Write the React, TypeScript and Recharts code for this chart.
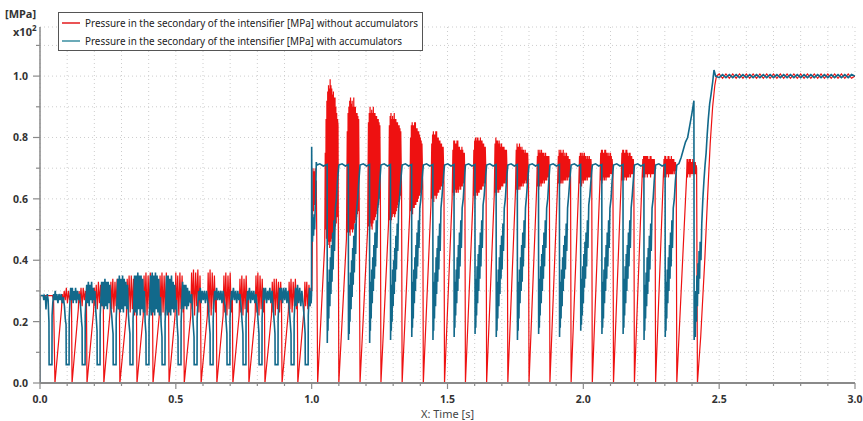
import React from 'react';
import { LineChart, Line, XAxis, YAxis, CartesianGrid } from 'recharts';

// ---- axis ticks ----
const xTicks = [0, 0.1, 0.2, 0.3, 0.4, 0.5, 0.6, 0.7, 0.8, 0.9, 1.0, 1.1, 1.2, 1.3, 1.4, 1.5, 1.6, 1.7, 1.8, 1.9, 2.0, 2.1, 2.2, 2.3, 2.4, 2.5, 2.6, 2.7, 2.8, 2.9, 3.0];
const yTicks = [0, 0.1, 0.2, 0.3, 0.4, 0.5, 0.6, 0.7, 0.8, 0.9, 1.0, 1.1];
const xLabels = ['0.0', '0.5', '1.0', '1.5', '2.0', '2.5', '3.0'];
const yLabels = ['0.0', '0.2', '0.4', '0.6', '0.8', '1.0'];

const seriesNames = [
  'Pressure in the secondary of the intensifier [MPa] without accumulators',
  'Pressure in the secondary of the intensifier [MPa] with accumulators',
];

// ---- red: without accumulators  [time s, pressure x100 MPa] ----
const redStartup: number[][] = [
  [0, 0], [0.001, 0.285], [0.046, 0.285], [0.05, 0.27],
  [0.055, 0], [0.079, 0.24], [0.082, 0.29], [0.085, 0.26], [0.089, 0.3], [0.093, 0.27], [0.097, 0.31], [0.101, 0.26], [0.105, 0.3], [0.109, 0.27], [0.113, 0.29], [0.116, 0.27],
  [0.118, 0], [0.141, 0.24], [0.144, 0.3], [0.147, 0.26], [0.151, 0.31], [0.155, 0.25], [0.159, 0.31], [0.163, 0.27], [0.167, 0.3], [0.171, 0.26],
  [0.173, 0], [0.197, 0.23], [0.2, 0.31], [0.203, 0.25], [0.207, 0.32], [0.211, 0.24], [0.215, 0.33], [0.219, 0.26], [0.223, 0.32], [0.227, 0.25], [0.231, 0.31], [0.233, 0.27],
  [0.235, 0], [0.258, 0.23], [0.261, 0.33], [0.264, 0.24], [0.268, 0.34], [0.272, 0.23], [0.276, 0.33], [0.28, 0.25], [0.284, 0.34], [0.288, 0.24], [0.292, 0.3],
  [0.294, 0], [0.318, 0.22], [0.321, 0.34], [0.324, 0.24], [0.328, 0.35], [0.332, 0.23], [0.336, 0.35], [0.34, 0.24], [0.344, 0.34], [0.348, 0.22], [0.352, 0.33], [0.355, 0.25],
  [0.357, 0], [0.38, 0.22], [0.383, 0.35], [0.386, 0.23], [0.39, 0.36], [0.394, 0.22], [0.398, 0.35], [0.402, 0.24], [0.406, 0.36], [0.41, 0.23], [0.414, 0.3],
  [0.416, 0], [0.439, 0.22], [0.442, 0.35], [0.445, 0.22], [0.449, 0.36], [0.453, 0.23], [0.457, 0.35], [0.461, 0.22], [0.465, 0.36], [0.469, 0.24], [0.473, 0.3],
  [0.475, 0], [0.497, 0.22], [0.5, 0.36], [0.503, 0.23], [0.507, 0.35], [0.511, 0.22], [0.515, 0.36], [0.519, 0.24], [0.523, 0.35], [0.527, 0.23], [0.529, 0.3],
  [0.531, 0], [0.555, 0.22], [0.558, 0.36], [0.561, 0.24], [0.565, 0.37], [0.569, 0.22], [0.573, 0.36], [0.577, 0.25], [0.581, 0.37], [0.585, 0.23], [0.589, 0.35], [0.591, 0.26],
  [0.593, 0], [0.616, 0.22], [0.619, 0.36], [0.622, 0.23], [0.626, 0.37], [0.63, 0.22], [0.634, 0.36], [0.638, 0.24], [0.642, 0.35], [0.646, 0.23], [0.649, 0.3],
  [0.651, 0], [0.674, 0.22], [0.677, 0.35], [0.68, 0.23], [0.684, 0.36], [0.688, 0.22], [0.692, 0.35], [0.696, 0.24], [0.7, 0.36], [0.704, 0.23], [0.708, 0.3],
  [0.71, 0], [0.733, 0.22], [0.736, 0.34], [0.739, 0.23], [0.743, 0.35], [0.747, 0.22], [0.751, 0.34], [0.755, 0.24], [0.759, 0.35], [0.763, 0.23], [0.767, 0.3],
  [0.769, 0], [0.792, 0.22], [0.795, 0.35], [0.798, 0.23], [0.802, 0.36], [0.806, 0.22], [0.81, 0.35], [0.814, 0.24], [0.818, 0.34], [0.822, 0.23], [0.826, 0.3],
  [0.828, 0], [0.852, 0.22], [0.855, 0.33], [0.858, 0.23], [0.862, 0.34], [0.866, 0.22], [0.87, 0.34], [0.874, 0.24], [0.878, 0.33], [0.882, 0.23], [0.886, 0.33], [0.889, 0.26],
  [0.891, 0], [0.914, 0.23], [0.917, 0.33], [0.92, 0.24], [0.924, 0.34], [0.928, 0.23], [0.932, 0.33], [0.936, 0.25], [0.94, 0.34], [0.944, 0.24], [0.947, 0.3],
  [0.949, 0], [0.972, 0.24], [0.975, 0.33], [0.978, 0.25], [0.982, 0.33], [0.986, 0.24], [0.99, 0.32], [0.994, 0.25], [0.998, 0.31], [1.001, 0.3],
  [1.003, 0.5], [1.005, 0.7], [1.007, 0.56], [1.009, 0.69], [1.011, 0.58], [1.013, 0.7], [1.015, 0.6], [1.017, 0.66], [1.019, 0.45],
];

const redCycles: number[][] = [
  [1.022, 0], [1.048, 0.45], [1.05, 0.75], [1.0515, 0.5], [1.053, 0.86], [1.0545, 0.47], [1.056, 0.92], [1.0575, 0.48], [1.059, 0.95], [1.0605, 0.45], [1.062, 0.97], [1.0635, 0.46], [1.065, 0.96], [1.0665, 0.44], [1.068, 0.99], [1.0695, 0.46], [1.071, 0.97], [1.0725, 0.47], [1.074, 0.96], [1.0755, 0.46], [1.077, 0.94], [1.0785, 0.45], [1.08, 0.95], [1.0815, 0.49], [1.083, 0.93], [1.0845, 0.5], [1.086, 0.93], [1.0875, 0.51], [1.089, 0.9], [1.0905, 0.52], [1.092, 0.88], [1.0935, 0.54], [1.095, 0.86], [1.097, 0.84],
  [1.1, 0], [1.128, 0.47], [1.131, 0.82], [1.1325, 0.49], [1.134, 0.88], [1.1355, 0.5], [1.137, 0.9], [1.1385, 0.49], [1.14, 0.92], [1.1415, 0.48], [1.143, 0.93], [1.1445, 0.5], [1.146, 0.91], [1.1475, 0.5], [1.149, 0.92], [1.1505, 0.49], [1.152, 0.9], [1.1535, 0.5], [1.155, 0.93], [1.1565, 0.52], [1.158, 0.9], [1.1595, 0.52], [1.161, 0.9], [1.1625, 0.53], [1.164, 0.88], [1.1655, 0.54], [1.167, 0.88], [1.1685, 0.55], [1.17, 0.87], [1.1715, 0.56], [1.173, 0.86], [1.175, 0.6],
  [1.178, 0], [1.206, 0.5], [1.209, 0.85], [1.2105, 0.51], [1.212, 0.88], [1.2135, 0.5], [1.215, 0.9], [1.2165, 0.52], [1.218, 0.88], [1.2195, 0.51], [1.221, 0.89], [1.2225, 0.5], [1.224, 0.88], [1.2255, 0.52], [1.227, 0.9], [1.2285, 0.53], [1.23, 0.88], [1.2315, 0.53], [1.233, 0.88], [1.2345, 0.54], [1.236, 0.87], [1.2375, 0.55], [1.239, 0.87], [1.2405, 0.56], [1.242, 0.86], [1.2435, 0.57], [1.245, 0.86], [1.2465, 0.58], [1.248, 0.85], [1.2495, 0.6], [1.251, 0.84], [1.253, 0.62],
  [1.255, 0], [1.283, 0.52], [1.286, 0.84], [1.2875, 0.53], [1.289, 0.87], [1.2905, 0.52], [1.292, 0.88], [1.2935, 0.53], [1.295, 0.86], [1.2965, 0.54], [1.298, 0.87], [1.2995, 0.55], [1.301, 0.86], [1.3025, 0.55], [1.304, 0.88], [1.3055, 0.54], [1.307, 0.86], [1.3085, 0.55], [1.31, 0.86], [1.3115, 0.56], [1.313, 0.85], [1.3145, 0.57], [1.316, 0.85], [1.3175, 0.58], [1.319, 0.84], [1.3205, 0.59], [1.322, 0.84], [1.3235, 0.6], [1.325, 0.83], [1.3265, 0.61], [1.328, 0.82], [1.331, 0.62],
  [1.333, 0], [1.361, 0.55], [1.364, 0.8], [1.3655, 0.56], [1.367, 0.84], [1.3685, 0.56], [1.37, 0.85], [1.3715, 0.55], [1.373, 0.84], [1.3745, 0.57], [1.376, 0.84], [1.3775, 0.57], [1.379, 0.85], [1.3805, 0.58], [1.382, 0.85], [1.3835, 0.58], [1.385, 0.83], [1.3865, 0.59], [1.388, 0.83], [1.3895, 0.59], [1.391, 0.82], [1.3925, 0.6], [1.394, 0.82], [1.3955, 0.61], [1.397, 0.81], [1.3985, 0.61], [1.4, 0.8], [1.4015, 0.62], [1.403, 0.79], [1.4045, 0.63], [1.406, 0.78], [1.409, 0.64],
  [1.411, 0], [1.439, 0.58], [1.442, 0.78], [1.4435, 0.6], [1.445, 0.81], [1.4465, 0.6], [1.448, 0.82], [1.4495, 0.59], [1.451, 0.81], [1.4525, 0.61], [1.454, 0.81], [1.4555, 0.61], [1.457, 0.82], [1.4585, 0.6], [1.46, 0.82], [1.4615, 0.61], [1.463, 0.8], [1.4645, 0.62], [1.466, 0.8], [1.4675, 0.62], [1.469, 0.79], [1.4705, 0.63], [1.472, 0.79], [1.4735, 0.63], [1.475, 0.78], [1.4765, 0.64], [1.478, 0.78], [1.4795, 0.64], [1.481, 0.77], [1.4825, 0.65], [1.484, 0.77], [1.487, 0.65],
  [1.489, 0], [1.517, 0.6], [1.52, 0.76], [1.5215, 0.62], [1.523, 0.79], [1.5245, 0.61], [1.526, 0.79], [1.5275, 0.62], [1.529, 0.78], [1.5305, 0.63], [1.532, 0.78], [1.5335, 0.62], [1.535, 0.79], [1.5365, 0.63], [1.538, 0.79], [1.5395, 0.62], [1.541, 0.77], [1.5425, 0.63], [1.544, 0.77], [1.5455, 0.64], [1.547, 0.76], [1.5485, 0.63], [1.55, 0.76], [1.5515, 0.64], [1.553, 0.77], [1.5545, 0.64], [1.556, 0.76], [1.5575, 0.65], [1.559, 0.75], [1.5605, 0.65], [1.562, 0.75], [1.564, 0.66],
  [1.566, 0], [1.594, 0.6], [1.597, 0.76], [1.5985, 0.61], [1.6, 0.79], [1.6015, 0.6], [1.603, 0.8], [1.6045, 0.61], [1.606, 0.79], [1.6075, 0.62], [1.609, 0.8], [1.6105, 0.61], [1.612, 0.8], [1.6135, 0.62], [1.615, 0.79], [1.6165, 0.62], [1.618, 0.79], [1.6195, 0.63], [1.621, 0.8], [1.6225, 0.63], [1.624, 0.79], [1.6255, 0.63], [1.627, 0.79], [1.6285, 0.64], [1.63, 0.78], [1.6315, 0.64], [1.633, 0.78], [1.6345, 0.65], [1.636, 0.77], [1.6375, 0.65], [1.639, 0.77], [1.642, 0.66],
  [1.644, 0], [1.672, 0.61], [1.675, 0.78], [1.6765, 0.62], [1.678, 0.8], [1.6795, 0.61], [1.681, 0.79], [1.6825, 0.62], [1.684, 0.79], [1.6855, 0.63], [1.687, 0.78], [1.6885, 0.62], [1.69, 0.79], [1.6915, 0.63], [1.693, 0.78], [1.6945, 0.63], [1.696, 0.77], [1.6975, 0.64], [1.699, 0.78], [1.7005, 0.64], [1.702, 0.77], [1.7035, 0.64], [1.705, 0.77], [1.7065, 0.65], [1.708, 0.77], [1.7095, 0.65], [1.711, 0.76], [1.7125, 0.65], [1.714, 0.76], [1.7155, 0.66], [1.717, 0.76], [1.72, 0.66],
  [1.722, 0], [1.75, 0.62], [1.753, 0.76], [1.7545, 0.63], [1.756, 0.78], [1.7575, 0.62], [1.759, 0.77], [1.7605, 0.63], [1.762, 0.77], [1.7635, 0.64], [1.765, 0.78], [1.7665, 0.63], [1.768, 0.77], [1.7695, 0.64], [1.771, 0.76], [1.7725, 0.64], [1.774, 0.77], [1.7755, 0.65], [1.777, 0.76], [1.7785, 0.64], [1.78, 0.76], [1.7815, 0.65], [1.783, 0.75], [1.7845, 0.65], [1.786, 0.76], [1.7875, 0.66], [1.789, 0.75], [1.7905, 0.65], [1.792, 0.75], [1.7935, 0.66], [1.795, 0.75], [1.798, 0.66],
  [1.8, 0], [1.828, 0.63], [1.831, 0.74], [1.8325, 0.64], [1.834, 0.76], [1.8355, 0.63], [1.837, 0.75], [1.8385, 0.64], [1.84, 0.76], [1.8415, 0.65], [1.843, 0.75], [1.8445, 0.64], [1.846, 0.76], [1.8475, 0.65], [1.849, 0.75], [1.8505, 0.65], [1.852, 0.75], [1.8535, 0.66], [1.855, 0.75], [1.8565, 0.65], [1.858, 0.74], [1.8595, 0.66], [1.861, 0.75], [1.8625, 0.66], [1.864, 0.74], [1.8655, 0.66], [1.867, 0.74], [1.8685, 0.67], [1.87, 0.74], [1.8715, 0.67], [1.873, 0.74], [1.875, 0.67],
  [1.877, 0], [1.905, 0.64], [1.908, 0.74], [1.9095, 0.65], [1.911, 0.76], [1.9125, 0.64], [1.914, 0.75], [1.9155, 0.65], [1.917, 0.76], [1.9185, 0.65], [1.92, 0.75], [1.9215, 0.66], [1.923, 0.75], [1.9245, 0.65], [1.926, 0.76], [1.9275, 0.66], [1.929, 0.74], [1.9305, 0.66], [1.932, 0.75], [1.9335, 0.66], [1.935, 0.74], [1.9365, 0.66], [1.938, 0.75], [1.9395, 0.67], [1.941, 0.74], [1.9425, 0.66], [1.944, 0.74], [1.9455, 0.67], [1.947, 0.73], [1.9485, 0.67], [1.95, 0.73], [1.953, 0.67],
  [1.955, 0], [1.983, 0.64], [1.986, 0.74], [1.9875, 0.65], [1.989, 0.75], [1.9905, 0.65], [1.992, 0.75], [1.9935, 0.64], [1.995, 0.74], [1.9965, 0.66], [1.998, 0.75], [1.9995, 0.65], [2.001, 0.74], [2.0025, 0.66], [2.004, 0.75], [2.0055, 0.66], [2.007, 0.74], [2.0085, 0.66], [2.01, 0.74], [2.0115, 0.67], [2.013, 0.73], [2.0145, 0.66], [2.016, 0.74], [2.0175, 0.67], [2.019, 0.73], [2.0205, 0.67], [2.022, 0.74], [2.0235, 0.67], [2.025, 0.73], [2.0265, 0.67], [2.028, 0.73], [2.031, 0.67],
  [2.033, 0], [2.061, 0.65], [2.064, 0.75], [2.0655, 0.66], [2.067, 0.76], [2.0685, 0.65], [2.07, 0.76], [2.0715, 0.66], [2.073, 0.75], [2.0745, 0.67], [2.076, 0.75], [2.0775, 0.66], [2.079, 0.76], [2.0805, 0.67], [2.082, 0.76], [2.0835, 0.66], [2.085, 0.75], [2.0865, 0.67], [2.088, 0.75], [2.0895, 0.67], [2.091, 0.74], [2.0925, 0.67], [2.094, 0.75], [2.0955, 0.67], [2.097, 0.74], [2.0985, 0.68], [2.1, 0.75], [2.1015, 0.68], [2.103, 0.74], [2.1045, 0.68], [2.106, 0.73], [2.109, 0.68],
  [2.111, 0], [2.139, 0.65], [2.142, 0.75], [2.1435, 0.66], [2.145, 0.76], [2.1465, 0.66], [2.148, 0.76], [2.1495, 0.66], [2.151, 0.75], [2.1525, 0.67], [2.154, 0.75], [2.1555, 0.67], [2.157, 0.76], [2.1585, 0.66], [2.16, 0.76], [2.1615, 0.67], [2.163, 0.75], [2.1645, 0.67], [2.166, 0.74], [2.1675, 0.67], [2.169, 0.75], [2.1705, 0.68], [2.172, 0.75], [2.1735, 0.67], [2.175, 0.74], [2.1765, 0.68], [2.178, 0.74], [2.1795, 0.68], [2.181, 0.73], [2.1825, 0.68], [2.184, 0.73], [2.186, 0.68],
  [2.188, 0], [2.216, 0.66], [2.219, 0.73], [2.2205, 0.67], [2.222, 0.74], [2.2235, 0.67], [2.225, 0.74], [2.2265, 0.67], [2.228, 0.74], [2.2295, 0.68], [2.231, 0.74], [2.2325, 0.68], [2.234, 0.74], [2.2355, 0.67], [2.237, 0.74], [2.2385, 0.68], [2.24, 0.73], [2.2415, 0.68], [2.243, 0.73], [2.2445, 0.68], [2.246, 0.74], [2.2475, 0.67], [2.249, 0.74], [2.2505, 0.68], [2.252, 0.73], [2.2535, 0.68], [2.255, 0.73], [2.2565, 0.68], [2.258, 0.73], [2.2595, 0.68], [2.261, 0.73], [2.264, 0.68],
  [2.266, 0], [2.294, 0.66], [2.297, 0.73], [2.2985, 0.67], [2.3, 0.74], [2.3015, 0.67], [2.303, 0.74], [2.3045, 0.67], [2.306, 0.73], [2.3075, 0.68], [2.309, 0.73], [2.3105, 0.68], [2.312, 0.74], [2.3135, 0.67], [2.315, 0.74], [2.3165, 0.68], [2.318, 0.73], [2.3195, 0.68], [2.321, 0.73], [2.3225, 0.68], [2.324, 0.74], [2.3255, 0.68], [2.327, 0.73], [2.3285, 0.68], [2.33, 0.73], [2.3315, 0.69], [2.333, 0.73], [2.3345, 0.68], [2.336, 0.72], [2.3375, 0.69], [2.339, 0.72], [2.342, 0.69],
  [2.344, 0], [2.38, 0.67], [2.382, 0.73], [2.3835, 0.67], [2.385, 0.73], [2.3865, 0.68], [2.388, 0.72], [2.3895, 0.68], [2.391, 0.73], [2.3925, 0.67], [2.394, 0.73], [2.3955, 0.68], [2.397, 0.72], [2.3985, 0.68], [2.4, 0.72], [2.4015, 0.68], [2.403, 0.73], [2.4045, 0.68], [2.406, 0.72], [2.4075, 0.68], [2.409, 0.72], [2.4105, 0.68], [2.412, 0.72], [2.4135, 0.68], [2.415, 0.71], [2.417, 0.7],
];

const redSettle: number[][] = [
  [2.42, 0], [2.432, 0.15], [2.447, 0.4], [2.457, 0.6], [2.467, 0.78], [2.476, 0.9], [2.484, 0.97], [2.49, 1.0],
  [2.5, 1.007], [2.5125, 0.993], [2.525, 1.007], [2.5375, 0.993], [2.55, 1.007], [2.5625, 0.993], [2.575, 1.007], [2.5875, 0.993],
  [2.6, 1.007], [2.6125, 0.993], [2.625, 1.007], [2.6375, 0.993], [2.65, 1.007], [2.6625, 0.993], [2.675, 1.007], [2.6875, 0.993],
  [2.7, 1.007], [2.7125, 0.993], [2.725, 1.007], [2.7375, 0.993], [2.75, 1.007], [2.7625, 0.993], [2.775, 1.007], [2.7875, 0.993],
  [2.8, 1.007], [2.8125, 0.993], [2.825, 1.007], [2.8375, 0.993], [2.85, 1.007], [2.8625, 0.993], [2.875, 1.007], [2.8875, 0.993],
  [2.9, 1.007], [2.9125, 0.993], [2.925, 1.007], [2.9375, 0.993], [2.95, 1.007], [2.9625, 0.993], [2.975, 1.007], [2.9875, 0.993], [3.0, 1.0],
];

// ---- blue: with accumulators ----
const blueStartup: number[][] = [
  [0, 0], [0.001, 0.285], [0.012, 0.285], [0.014, 0.27], [0.016, 0.285], [0.02, 0.28], [0.022, 0.24], [0.024, 0.27], [0.027, 0.29], [0.03, 0.27], [0.032, 0.22],
  [0.033, 0.2], [0.0335, 0.06], [0.044, 0.06],
  [0.0445, 0.22], [0.047, 0.26], [0.05, 0.29], [0.053, 0.27], [0.056, 0.3], [0.059, 0.27], [0.062, 0.29], [0.066, 0.26], [0.07, 0.29], [0.074, 0.27], [0.078, 0.29], [0.082, 0.26], [0.086, 0.28], [0.09, 0.25], [0.093, 0.21], [0.096, 0.19], [0.0965, 0.06], [0.107, 0.06],
  [0.1075, 0.21], [0.11, 0.26], [0.113, 0.31], [0.116, 0.27], [0.119, 0.31], [0.122, 0.26], [0.125, 0.3], [0.128, 0.27], [0.131, 0.31], [0.134, 0.26], [0.138, 0.3], [0.142, 0.27], [0.146, 0.29], [0.15, 0.24], [0.153, 0.2], [0.155, 0.18], [0.1555, 0.06], [0.166, 0.06],
  [0.1665, 0.22], [0.169, 0.27], [0.172, 0.32], [0.175, 0.26], [0.178, 0.33], [0.181, 0.25], [0.184, 0.32], [0.187, 0.27], [0.19, 0.33], [0.193, 0.26], [0.196, 0.31], [0.199, 0.27], [0.202, 0.3], [0.205, 0.24], [0.208, 0.2], [0.21, 0.17], [0.2105, 0.06], [0.221, 0.06],
  [0.2215, 0.22], [0.224, 0.27], [0.227, 0.33], [0.23, 0.25], [0.233, 0.33], [0.236, 0.24], [0.239, 0.34], [0.242, 0.25], [0.245, 0.33], [0.248, 0.24], [0.251, 0.33], [0.254, 0.26], [0.257, 0.32], [0.26, 0.25], [0.264, 0.22], [0.267, 0.18], [0.269, 0.16], [0.2695, 0.06], [0.28, 0.06],
  [0.2805, 0.21], [0.283, 0.26], [0.286, 0.34], [0.289, 0.24], [0.292, 0.35], [0.295, 0.23], [0.298, 0.34], [0.301, 0.24], [0.304, 0.35], [0.307, 0.23], [0.31, 0.34], [0.313, 0.25], [0.316, 0.33], [0.319, 0.24], [0.322, 0.32], [0.325, 0.23], [0.328, 0.19], [0.331, 0.16], [0.3315, 0.06], [0.342, 0.06],
  [0.3425, 0.21], [0.345, 0.25], [0.348, 0.35], [0.351, 0.23], [0.354, 0.35], [0.357, 0.22], [0.36, 0.36], [0.363, 0.24], [0.366, 0.35], [0.369, 0.22], [0.372, 0.35], [0.375, 0.24], [0.378, 0.34], [0.381, 0.23], [0.384, 0.3], [0.387, 0.2], [0.39, 0.16], [0.3905, 0.06], [0.401, 0.06],
  [0.4015, 0.2], [0.404, 0.25], [0.407, 0.35], [0.41, 0.22], [0.413, 0.36], [0.416, 0.23], [0.419, 0.35], [0.422, 0.22], [0.425, 0.36], [0.428, 0.24], [0.431, 0.35], [0.434, 0.23], [0.437, 0.34], [0.44, 0.22], [0.443, 0.28], [0.446, 0.19], [0.449, 0.15], [0.4495, 0.06], [0.46, 0.06],
  [0.4605, 0.2], [0.463, 0.25], [0.466, 0.35], [0.469, 0.22], [0.472, 0.35], [0.475, 0.23], [0.478, 0.34], [0.481, 0.22], [0.484, 0.35], [0.487, 0.24], [0.49, 0.33], [0.493, 0.23], [0.496, 0.32], [0.499, 0.24], [0.502, 0.27], [0.505, 0.19], [0.508, 0.15], [0.5085, 0.06], [0.519, 0.06],
  [0.5195, 0.2], [0.522, 0.26], [0.525, 0.33], [0.528, 0.24], [0.531, 0.32], [0.534, 0.25], [0.537, 0.32], [0.54, 0.24], [0.543, 0.31], [0.546, 0.25], [0.55, 0.3], [0.554, 0.26], [0.558, 0.29], [0.561, 0.24], [0.564, 0.19], [0.567, 0.15], [0.5675, 0.06], [0.578, 0.06],
  [0.5785, 0.21], [0.581, 0.26], [0.584, 0.3], [0.587, 0.27], [0.59, 0.31], [0.593, 0.26], [0.597, 0.3], [0.601, 0.27], [0.605, 0.3], [0.609, 0.26], [0.613, 0.3], [0.617, 0.27], [0.62, 0.25], [0.623, 0.2], [0.626, 0.16], [0.6265, 0.06], [0.637, 0.06],
  [0.6375, 0.21], [0.64, 0.26], [0.643, 0.3], [0.646, 0.27], [0.65, 0.31], [0.654, 0.27], [0.658, 0.3], [0.662, 0.27], [0.666, 0.3], [0.67, 0.26], [0.674, 0.3], [0.678, 0.27], [0.682, 0.25], [0.685, 0.2], [0.688, 0.16], [0.6885, 0.06], [0.699, 0.06],
  [0.6995, 0.21], [0.702, 0.26], [0.705, 0.3], [0.708, 0.27], [0.712, 0.31], [0.716, 0.27], [0.72, 0.3], [0.724, 0.26], [0.728, 0.3], [0.732, 0.27], [0.736, 0.29], [0.74, 0.25], [0.744, 0.2], [0.747, 0.16], [0.7475, 0.06], [0.758, 0.06],
  [0.7585, 0.21], [0.761, 0.26], [0.764, 0.3], [0.767, 0.27], [0.771, 0.31], [0.775, 0.26], [0.779, 0.3], [0.783, 0.27], [0.787, 0.3], [0.791, 0.26], [0.795, 0.29], [0.799, 0.25], [0.803, 0.2], [0.806, 0.16], [0.8065, 0.06], [0.817, 0.06],
  [0.8175, 0.21], [0.82, 0.26], [0.823, 0.31], [0.826, 0.27], [0.83, 0.31], [0.834, 0.26], [0.838, 0.3], [0.842, 0.27], [0.846, 0.31], [0.85, 0.26], [0.854, 0.3], [0.858, 0.25], [0.862, 0.2], [0.865, 0.16], [0.8655, 0.06], [0.876, 0.06],
  [0.8765, 0.21], [0.879, 0.26], [0.882, 0.31], [0.885, 0.27], [0.889, 0.31], [0.893, 0.26], [0.897, 0.31], [0.901, 0.27], [0.905, 0.31], [0.909, 0.26], [0.913, 0.3], [0.917, 0.25], [0.921, 0.2], [0.924, 0.16], [0.9245, 0.06], [0.935, 0.06],
  [0.9355, 0.21], [0.938, 0.26], [0.941, 0.31], [0.944, 0.25], [0.948, 0.32], [0.952, 0.26], [0.956, 0.31], [0.96, 0.25], [0.964, 0.3], [0.968, 0.26], [0.971, 0.23], [0.974, 0.19], [0.976, 0.16], [0.9765, 0.06], [0.987, 0.06],
  [0.9875, 0.22], [0.99, 0.27], [0.992, 0.31], [0.994, 0.25], [0.996, 0.3], [0.998, 0.26], [0.9995, 0.29],
  [1.0, 0.77], [1.0015, 0.52], [1.003, 0.46], [1.005, 0.54], [1.007, 0.48], [1.009, 0.55], [1.011, 0.5], [1.013, 0.57], [1.015, 0.62], [1.017, 0.72], [1.019, 0.71], [1.03, 0.714], [1.043, 0.707],
];

const blueCycles: number[][] = [
  [1.057, 0.712], [1.0575, 0.13], [1.059, 0.28], [1.06, 0.17], [1.062, 0.33], [1.063, 0.21], [1.065, 0.37], [1.067, 0.25], [1.069, 0.41], [1.071, 0.29], [1.073, 0.45], [1.075, 0.33], [1.077, 0.49], [1.079, 0.37], [1.082, 0.53], [1.084, 0.43], [1.087, 0.57], [1.091, 0.6], [1.095, 0.66], [1.1, 0.71],
  [1.112, 0.714], [1.124, 0.707], [1.135, 0.712],
  [1.1355, 0.14], [1.137, 0.27], [1.138, 0.16], [1.14, 0.32], [1.141, 0.2], [1.143, 0.36], [1.145, 0.24], [1.147, 0.4], [1.149, 0.28], [1.151, 0.44], [1.153, 0.32], [1.155, 0.48], [1.157, 0.36], [1.16, 0.52], [1.162, 0.42], [1.165, 0.56], [1.169, 0.6], [1.173, 0.65], [1.178, 0.71],
  [1.19, 0.714], [1.202, 0.707], [1.213, 0.712],
  [1.2135, 0.13], [1.215, 0.28], [1.216, 0.17], [1.218, 0.33], [1.219, 0.21], [1.221, 0.37], [1.223, 0.26], [1.225, 0.41], [1.227, 0.3], [1.229, 0.45], [1.231, 0.34], [1.233, 0.49], [1.235, 0.38], [1.238, 0.53], [1.24, 0.44], [1.243, 0.57], [1.247, 0.6], [1.251, 0.66], [1.255, 0.71],
  [1.267, 0.714], [1.279, 0.707], [1.29, 0.712],
  [1.2905, 0.14], [1.292, 0.27], [1.293, 0.17], [1.295, 0.32], [1.296, 0.2], [1.298, 0.37], [1.3, 0.25], [1.302, 0.4], [1.304, 0.29], [1.306, 0.44], [1.308, 0.33], [1.31, 0.48], [1.312, 0.37], [1.315, 0.52], [1.317, 0.43], [1.32, 0.57], [1.324, 0.61], [1.328, 0.66], [1.333, 0.71],
  [1.345, 0.714], [1.357, 0.707], [1.368, 0.712],
  [1.3685, 0.15], [1.37, 0.28], [1.371, 0.18], [1.373, 0.33], [1.374, 0.21], [1.376, 0.37], [1.378, 0.26], [1.38, 0.41], [1.382, 0.3], [1.384, 0.45], [1.386, 0.34], [1.388, 0.49], [1.39, 0.38], [1.393, 0.53], [1.395, 0.44], [1.398, 0.57], [1.402, 0.6], [1.406, 0.66], [1.411, 0.71],
  [1.423, 0.714], [1.435, 0.707], [1.446, 0.712],
  [1.4465, 0.14], [1.448, 0.27], [1.449, 0.17], [1.451, 0.33], [1.452, 0.21], [1.454, 0.36], [1.456, 0.25], [1.458, 0.41], [1.46, 0.29], [1.462, 0.44], [1.464, 0.33], [1.466, 0.48], [1.468, 0.37], [1.471, 0.52], [1.473, 0.43], [1.476, 0.57], [1.48, 0.61], [1.484, 0.66], [1.489, 0.71],
  [1.501, 0.714], [1.513, 0.707], [1.524, 0.712],
  [1.5245, 0.15], [1.526, 0.28], [1.527, 0.18], [1.529, 0.33], [1.53, 0.22], [1.532, 0.37], [1.534, 0.26], [1.536, 0.41], [1.538, 0.3], [1.54, 0.45], [1.542, 0.34], [1.544, 0.49], [1.546, 0.38], [1.549, 0.53], [1.551, 0.44], [1.554, 0.57], [1.558, 0.6], [1.562, 0.66], [1.566, 0.71],
  [1.578, 0.714], [1.59, 0.707], [1.601, 0.712],
  [1.6015, 0.16], [1.603, 0.29], [1.604, 0.18], [1.606, 0.34], [1.607, 0.22], [1.609, 0.38], [1.611, 0.26], [1.613, 0.42], [1.615, 0.3], [1.617, 0.45], [1.619, 0.34], [1.621, 0.49], [1.623, 0.38], [1.626, 0.53], [1.628, 0.44], [1.631, 0.58], [1.635, 0.61], [1.639, 0.66], [1.644, 0.71],
  [1.656, 0.714], [1.668, 0.707], [1.679, 0.712],
  [1.6795, 0.15], [1.681, 0.28], [1.682, 0.17], [1.684, 0.33], [1.685, 0.21], [1.687, 0.37], [1.689, 0.25], [1.691, 0.41], [1.693, 0.29], [1.695, 0.45], [1.697, 0.34], [1.699, 0.48], [1.701, 0.37], [1.704, 0.52], [1.706, 0.43], [1.709, 0.57], [1.713, 0.6], [1.717, 0.66], [1.722, 0.71],
  [1.734, 0.714], [1.746, 0.707], [1.757, 0.712],
  [1.7575, 0.14], [1.759, 0.28], [1.76, 0.17], [1.762, 0.33], [1.763, 0.21], [1.765, 0.37], [1.767, 0.26], [1.769, 0.41], [1.771, 0.3], [1.773, 0.45], [1.775, 0.33], [1.777, 0.49], [1.779, 0.38], [1.782, 0.53], [1.784, 0.44], [1.787, 0.57], [1.791, 0.61], [1.795, 0.66], [1.8, 0.71],
  [1.812, 0.714], [1.824, 0.707], [1.835, 0.712],
  [1.8355, 0.16], [1.837, 0.29], [1.838, 0.18], [1.84, 0.34], [1.841, 0.22], [1.843, 0.38], [1.845, 0.26], [1.847, 0.42], [1.849, 0.3], [1.851, 0.45], [1.853, 0.34], [1.855, 0.49], [1.857, 0.38], [1.86, 0.53], [1.862, 0.44], [1.865, 0.57], [1.869, 0.6], [1.873, 0.66], [1.877, 0.71],
  [1.889, 0.714], [1.901, 0.707], [1.912, 0.712],
  [1.9125, 0.15], [1.914, 0.28], [1.915, 0.18], [1.917, 0.33], [1.918, 0.21], [1.92, 0.37], [1.922, 0.25], [1.924, 0.41], [1.926, 0.3], [1.928, 0.45], [1.93, 0.34], [1.932, 0.48], [1.934, 0.37], [1.937, 0.52], [1.939, 0.43], [1.942, 0.57], [1.946, 0.61], [1.95, 0.66], [1.955, 0.71],
  [1.967, 0.714], [1.979, 0.707], [1.99, 0.712],
  [1.9905, 0.17], [1.992, 0.29], [1.993, 0.19], [1.995, 0.34], [1.996, 0.22], [1.998, 0.38], [2.0, 0.26], [2.002, 0.42], [2.004, 0.31], [2.006, 0.46], [2.008, 0.34], [2.01, 0.49], [2.012, 0.38], [2.015, 0.53], [2.017, 0.44], [2.02, 0.58], [2.024, 0.61], [2.028, 0.66], [2.033, 0.71],
  [2.045, 0.714], [2.057, 0.707], [2.068, 0.712],
  [2.0685, 0.16], [2.07, 0.28], [2.071, 0.18], [2.073, 0.33], [2.074, 0.21], [2.076, 0.37], [2.078, 0.26], [2.08, 0.41], [2.082, 0.3], [2.084, 0.45], [2.086, 0.34], [2.088, 0.49], [2.09, 0.38], [2.093, 0.53], [2.095, 0.44], [2.098, 0.57], [2.102, 0.6], [2.106, 0.66], [2.111, 0.71],
  [2.123, 0.714], [2.135, 0.707], [2.146, 0.712],
  [2.1465, 0.16], [2.148, 0.29], [2.149, 0.18], [2.151, 0.34], [2.152, 0.22], [2.154, 0.38], [2.156, 0.26], [2.158, 0.42], [2.16, 0.3], [2.162, 0.45], [2.164, 0.34], [2.166, 0.49], [2.168, 0.38], [2.171, 0.53], [2.173, 0.44], [2.176, 0.57], [2.18, 0.61], [2.184, 0.66], [2.188, 0.71],
  [2.2, 0.714], [2.212, 0.707], [2.223, 0.712],
  [2.2235, 0.14], [2.225, 0.27], [2.226, 0.17], [2.228, 0.32], [2.229, 0.21], [2.231, 0.36], [2.233, 0.25], [2.235, 0.41], [2.237, 0.29], [2.239, 0.44], [2.241, 0.33], [2.243, 0.48], [2.245, 0.37], [2.248, 0.52], [2.25, 0.43], [2.253, 0.57], [2.257, 0.6], [2.261, 0.66], [2.266, 0.71],
  [2.278, 0.714], [2.29, 0.707], [2.301, 0.712],
  [2.3015, 0.15], [2.303, 0.28], [2.304, 0.17], [2.306, 0.33], [2.307, 0.21], [2.309, 0.37], [2.311, 0.26], [2.313, 0.41], [2.315, 0.3], [2.317, 0.45], [2.319, 0.34], [2.321, 0.49], [2.323, 0.38], [2.326, 0.53], [2.328, 0.44], [2.331, 0.57], [2.335, 0.6], [2.339, 0.66], [2.344, 0.71],
  [2.352, 0.715], [2.36, 0.735], [2.368, 0.76], [2.376, 0.785], [2.384, 0.8], [2.392, 0.84], [2.4, 0.88], [2.407, 0.92],
];

const blueSettle: number[][] = [
  [2.408, 0.14], [2.41, 0.24], [2.412, 0.15], [2.414, 0.3], [2.416, 0.2], [2.418, 0.35], [2.42, 0.25], [2.422, 0.39], [2.424, 0.29], [2.426, 0.43], [2.428, 0.34], [2.43, 0.46], [2.433, 0.4], [2.436, 0.52], [2.44, 0.6], [2.444, 0.66], [2.448, 0.71], [2.452, 0.75], [2.456, 0.81], [2.46, 0.86], [2.465, 0.91], [2.47, 0.94], [2.476, 0.98], [2.481, 1.02], [2.487, 1.0],
  [2.5, 0.995], [2.5125, 1.005], [2.525, 0.995], [2.5375, 1.005], [2.55, 0.995], [2.5625, 1.005], [2.575, 0.995], [2.5875, 1.005],
  [2.6, 0.995], [2.6125, 1.005], [2.625, 0.995], [2.6375, 1.005], [2.65, 0.995], [2.6625, 1.005], [2.675, 0.995], [2.6875, 1.005],
  [2.7, 0.995], [2.7125, 1.005], [2.725, 0.995], [2.7375, 1.005], [2.75, 0.995], [2.7625, 1.005], [2.775, 0.995], [2.7875, 1.005],
  [2.8, 0.995], [2.8125, 1.005], [2.825, 0.995], [2.8375, 1.005], [2.85, 0.995], [2.8625, 1.005], [2.875, 0.995], [2.8875, 1.005],
  [2.9, 0.995], [2.9125, 1.005], [2.925, 0.995], [2.9375, 1.005], [2.95, 0.995], [2.9625, 1.005], [2.975, 0.995], [2.9875, 1.005], [3.0, 1.0],
];

const toRows = (pts: number[][]) => pts.map(([t, p]) => ({ t, p }));
const redData = toRows([...redStartup, ...redCycles, ...redSettle]);
const blueData = toRows([...blueStartup, ...blueCycles, ...blueSettle]);

const RED = '#ee1111';
const BLUE = '#12698b';
const AXIS = '#8a8a8a';
const FONT = '"Noto Sans", "Open Sans", sans-serif';

const XTick = (props: any) => {
  const { x, y, payload } = props;
  const label = Number(payload.value).toFixed(1);
  const major = xLabels.includes(label);
  return (
    <g>
      <line x1={x} x2={x} y1={y} y2={y + (major ? 6 : 3)} stroke={AXIS} strokeWidth={1.2} />
      {major && (
        <text x={x} y={y + 16} textAnchor="middle" dominantBaseline="central" fontFamily={FONT} fontWeight={700} fontSize={10.5} fill="#333">
          {label}
        </text>
      )}
    </g>
  );
};

const YTick = (props: any) => {
  const { x, y, payload } = props;
  const label = Number(payload.value).toFixed(1);
  const major = yLabels.includes(label);
  return (
    <g>
      <line x1={x} x2={x - (major ? 7 : 4)} y1={y} y2={y} stroke={AXIS} strokeWidth={1.2} />
      {major && (
        <text x={x - 12} y={y} textAnchor="end" dominantBaseline="central" fontFamily={FONT} fontWeight={700} fontSize={10.5} fill="#333">
          {label}
        </text>
      )}
    </g>
  );
};

export default function App() {
  return (
    <div style={{ position: 'absolute', left: 0, top: 0, width: 863, height: 421, background: '#fff', overflow: 'hidden' }}>
      <LineChart width={863} height={421} margin={{ top: 27, right: 8, bottom: 8, left: 0 }}>
        <CartesianGrid stroke="#cdcdcd" strokeDasharray="1 3" />
        <XAxis
          dataKey="t"
          type="number"
          domain={[0, 3]}
          ticks={xTicks}
          interval={0}
          height={30}
          tickSize={0}
          tickMargin={0}
          tickLine={false}
          axisLine={{ stroke: AXIS, strokeWidth: 2 }}
          tick={<XTick />}
          allowDataOverflow
        />
        <YAxis
          type="number"
          domain={[0, 1.16]}
          ticks={yTicks}
          interval={0}
          width={40}
          tickSize={0}
          tickMargin={0}
          tickLine={false}
          axisLine={{ stroke: AXIS, strokeWidth: 1.5 }}
          tick={<YTick />}
          allowDataOverflow
        />
        <Line data={redData} dataKey="p" type="linear" stroke={RED} strokeWidth={1.2} dot={false} isAnimationActive={false} name={seriesNames[0]} />
        <Line data={blueData} dataKey="p" type="linear" stroke={BLUE} strokeWidth={1.6} dot={false} isAnimationActive={false} name={seriesNames[1]} />
      </LineChart>
      <svg width={863} height={421} style={{ position: 'absolute', left: 0, top: 0, pointerEvents: 'none' }}>
        <text x={5} y={13} dominantBaseline="central" fontFamily={FONT} fontWeight={700} fontSize={11} fill="#333">[MPa]</text>
        <text x={13} y={31} dominantBaseline="central" fontFamily={FONT} fontWeight={700} fontSize={11} fill="#333">
          x10<tspan dy={-4} fontSize={8}>2</tspan>
        </text>
        <rect x={58.5} y={12.5} width={364} height={38} fill="#fff" stroke="#555" strokeWidth={1} />
        <line x1={62} x2={80} y1={23} y2={23} stroke="#e31a1c" strokeWidth={1.5} />
        <text x={85} y={23} dominantBaseline="central" fontFamily={FONT} fontSize={10} fill="#222" textLength={333} lengthAdjust="spacingAndGlyphs">{seriesNames[0]}</text>
        <line x1={62} x2={80} y1={41} y2={41} stroke="#3a8ea0" strokeWidth={1.5} />
        <text x={85} y={41} dominantBaseline="central" fontFamily={FONT} fontSize={10} fill="#222" textLength={317} lengthAdjust="spacingAndGlyphs">{seriesNames[1]}</text>
        <text x={447.5} y={413} textAnchor="middle" dominantBaseline="central" fontFamily={FONT} fontSize={11} fill="#444">X: Time [s]</text>
      </svg>
    </div>
  );
}
